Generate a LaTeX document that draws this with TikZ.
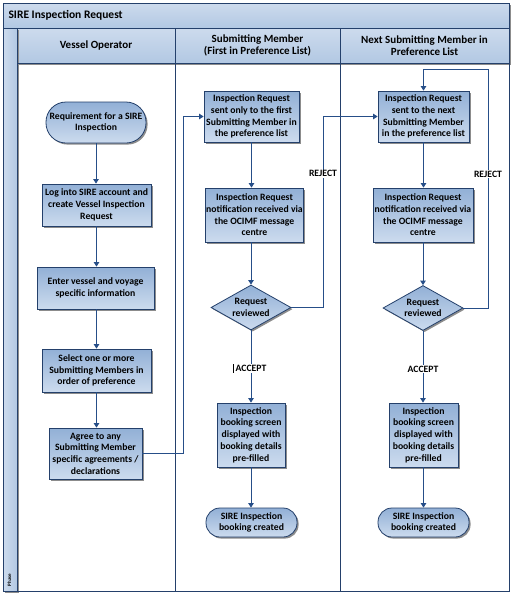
\documentclass[tikz,border=0pt]{standalone}
\usepackage{fontspec}
\setmainfont{Carlito}
\usetikzlibrary{arrows.meta,shapes.geometric,shadows}
\definecolor{frame}{RGB}{36,64,107}
\definecolor{conn}{RGB}{38,78,136}
\definecolor{boxtop}{RGB}{146,176,214}
\definecolor{boxbot}{RGB}{204,219,238}
\definecolor{hdtop}{RGB}{205,219,237}
\definecolor{hdbot}{RGB}{178,200,227}
\newcommand\boxfnt{\fontsize{9.7}{11.7}\selectfont\bfseries}
\newcommand\hdfnt{\fontsize{11}{12.5}\selectfont\bfseries}
\begin{document}
\begin{tikzpicture}[x=1pt,y=-1pt,
  shade/.style={drop shadow={shadow xshift=1.6pt,shadow yshift=-1.6pt,fill=black!45,opacity=1}},
  proc/.style={draw=frame, line width=0.8pt, top color=boxtop, bottom color=boxbot,
    align=center, inner sep=1pt, font=\boxfnt, text=black, shade},
  term/.style={proc, rounded corners=#1},
  dec/.style={proc, shape=diamond, aspect=1.78, inner sep=0pt, minimum width=80pt, minimum height=45pt},
  arr/.style={draw=conn, line width=0.9pt, -{Triangle[width=5.5pt,length=4.5pt]}},
  lbl/.style={fill=white, inner sep=1pt, font=\boxfnt, text=black},
  hdr/.style={align=center, font=\hdfnt, text=black}
]
\useasboundingbox (0,0) rectangle (511,595);
% swimlane frame
\fill[white] (3,3) rectangle (509,591);
\shade[top color=hdtop, bottom color=hdbot] (3,3) rectangle (509,28);
\shade[top color=hdtop, bottom color=hdbot] (17,28) rectangle (509,63);
\shade[left color=hdtop, right color=hdbot] (3,28) rectangle (17,591);
\draw[frame, line width=0.8pt] (3,3) rectangle (509,591);
\draw[frame, line width=0.8pt] (3,28) -- (509,28);
\draw[frame, line width=0.8pt] (17,63) -- (509,63);
\draw[frame, line width=0.8pt] (17,28) -- (17,591);
\draw[frame, line width=0.8pt] (175,28) -- (175,591);
\draw[frame, line width=0.8pt] (340,28) -- (340,591);
\node[anchor=west, font=\fontsize{11.5}{13}\selectfont\bfseries] (title) at (5,15.5) {SIRE Inspection Request};
\node[hdr] (h1) at (96,45.5) {Vessel Operator};
\node[hdr] (h2) at (257.5,45.5) {Submitting Member\\(First in Preference List)};
\node[hdr] (h3) at (424.5,45.5) {Next Submitting Member in\\Preference List};
\node[rotate=90, font=\fontsize{5}{6}\selectfont\bfseries] (phase) at (9.5,580) {Phase};

% column 1
\node[term=20pt, minimum width=100pt, minimum height=41pt] (s) at (96,122.5) {Requirement for a SIRE\\Inspection};
\node[proc, minimum width=109pt, minimum height=42pt] (b1) at (96.5,205) {Log into SIRE account and\\create Vessel Inspection\\Request};
\node[proc, minimum width=117pt, minimum height=42pt] (b2) at (95.5,288) {Enter vessel and voyage\\specific information};
\node[proc, minimum width=109pt, minimum height=43pt] (b3) at (96.5,370.5) {Select one or more\\Submitting Members in\\order of preference};
\node[proc, minimum width=93pt, minimum height=51pt] (b4) at (95.5,453.5) {Agree to any\\Submitting Member\\specific agreements /\\declarations};

% column 2
\node[proc, minimum width=95pt, minimum height=51pt] (A) at (251.5,116.5) {Inspection Request\\sent only to the first\\Submitting Member in\\the preference list};
\node[proc, minimum width=96pt, minimum height=54pt] (B) at (254.5,215) {Inspection Request\\notification received via\\the OCIMF message\\centre};
\node[dec] (D1) at (251,307.5) {Request\\reviewed};
\node[proc, minimum width=68pt, minimum height=64pt] (D) at (251,435) {Inspection\\booking screen\\displayed with\\booking details\\pre-filled};
\node[term=14pt, minimum width=91pt, minimum height=29pt] (E) at (251.5,522.5) {SIRE Inspection\\booking created};

% column 3
\node[proc, minimum width=91pt, minimum height=51pt] (C) at (423.5,116.5) {Inspection Request\\sent to the next\\Submitting Member\\in the preference list};
\node[proc, minimum width=100pt, minimum height=54pt] (F) at (423,215) {Inspection Request\\notification received via\\the OCIMF message\\centre};
\node[dec] (D2) at (423,308) {Request\\reviewed};
\node[proc, minimum width=69pt, minimum height=64pt] (G) at (423.5,435) {Inspection\\booking screen\\displayed with\\booking details\\pre-filled};
\node[term=14pt, minimum width=91pt, minimum height=29pt] (H) at (423.5,522.5) {SIRE Inspection\\booking created};

\coordinate (j1) at (183,0);
\coordinate (j2) at (323,0);
\coordinate (j3) at (488,0);
\coordinate (t3) at (0,69);

% connectors column 1
\draw[arr] (s.south) -- (s.south |- b1.north);
\draw[arr] (b1.south) -- (b1.south |- b2.north);
\draw[arr] (b1.south |- b2.south) -- (b1.south |- b3.north);
\draw[arr] (b3.south) -- (b3.south |- b4.north);
\draw[arr] (b4.east) -- (b4.east -| j1) -- (j1 |- A.west) -- (A.west);

% column 2
\draw[arr] (A.south) -- (A.south |- B.north);
\draw[arr] (D1.north |- B.south) -- (D1.north);
\draw[arr] (D1.south) -- (D1.south |- D.north) node[lbl, pos=0.53] (acc1) {ACCEPT};
\draw[black, line width=0.5pt] ([xshift=-1pt]acc1.north west) -- ([xshift=-1pt]acc1.south west);
\draw[arr] (D.south) -- (D.south |- E.north);
\draw[arr] (D1.east) -- (D1.east -| j2) -- (j2 |- C.west) node[lbl, pos=0.70] (rej1) {REJECT} -- (C.west);

% column 3
\draw[arr] (C.south) -- (C.south |- F.north);
\draw[arr] (D2.north |- F.south) -- (D2.north);
\draw[arr] (D2.south) -- (D2.south |- G.north) node[lbl, pos=0.53] (acc2) {ACCEPT};
\draw[arr] (G.south) -- (G.south |- H.north);
\draw[arr] (D2.east) -- (D2.east -| j3) -- (j3 |- t3) node[lbl, pos=0.56] (rej2) {REJECT} -- (C.north |- t3) -- (C.north);
\end{tikzpicture}
\end{document}
